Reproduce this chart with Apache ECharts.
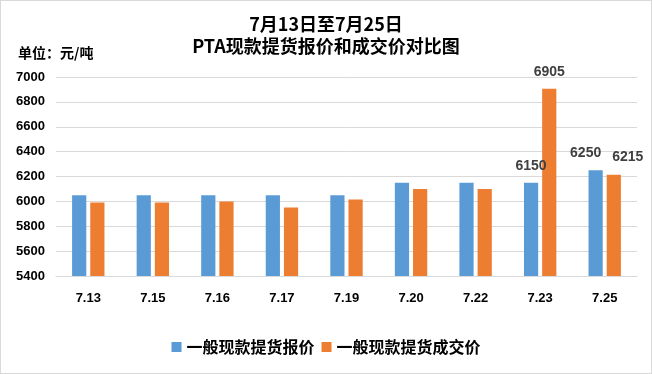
<!DOCTYPE html>
<html><head><meta charset="utf-8">
<script src="https://cdn.jsdelivr.net/npm/echarts@6/dist/echarts.min.js"></script>
<style>
html,body{margin:0;padding:0;background:#fff;}
#c{position:absolute;left:0;top:0;width:650px;height:372px;border:1px solid #d9d9d9;}
</style></head>
<body><div id="c"></div>
<script>
const categories = ['7.13','7.15','7.16','7.17','7.19','7.20','7.22','7.23','7.25'];
const quotePrice = [6050,6050,6050,6050,6050,6150,6150,6150,6250];
const dealPrice = [5990,5990,6000,5950,6015,6100,6100,6905,6215];
const quoteLabelIdx = [7,8];
const dealLabelIdx = [7,8];
const seriesNames = ['一般现款提货报价','一般现款提货成交价'];

// label nudges (styling only)
const quoteLabelOffset = {7:[0,0],8:[-10,0]};
const dealLabelOffset = {7:[0,0],8:[14,0]};

const chart = echarts.init(document.getElementById('c'));
function mk(vals, idx, offs){
  return vals.map((v,i)=>({value:v,label:{show:idx.includes(i),offset:offs[i]||[0,0]}}));
}
const numFont = 'Liberation Sans';
chart.setOption({
  animation:false,
  title:{
    text:'7月13日至7月25日\nPTA现款提货报价和成交价对比图',
    left:'center', top:7,
    textStyle:{fontFamily:'Noto Sans CJK SC',fontSize:18,fontWeight:'bold',color:'#000',lineHeight:22}
  },
  graphic:[{type:'text',left:17,top:45,style:{text:'单位：元/吨',font:'bold 14px "Noto Sans CJK SC"',fill:'#000'}}],
  legend:{
    bottom:13,left:'center',itemWidth:10,itemHeight:10,itemGap:7,icon:'rect',
    textStyle:{fontFamily:'Noto Sans CJK SC',fontSize:16,fontWeight:'bold',color:'#000',padding:[0,0,0,0]}
  },
  grid:{left:55,right:14,top:76,bottom:97,containLabel:false},
  xAxis:{
    type:'category',data:categories,
    axisLine:{lineStyle:{color:'#d9d9d9'}},axisTick:{show:false},
    axisLabel:{fontFamily:numFont,fontWeight:'bold',fontSize:13,color:'#000',margin:16}
  },
  yAxis:{
    type:'value',min:5400,max:7000,interval:200,
    axisLine:{show:false},axisTick:{show:false},
    splitLine:{lineStyle:{color:'#d9d9d9'}},
    axisLabel:{fontFamily:numFont,fontWeight:'bold',fontSize:13,color:'#000',margin:11,formatter:v=>String(v)}
  },
  series:[
    {name:seriesNames[0],type:'bar',data:mk(quotePrice,quoteLabelIdx,quoteLabelOffset),barWidth:'22%',barGap:'28%',
     itemStyle:{color:'#5b9bd5'},
     label:{position:'top',distance:10,fontFamily:numFont,fontWeight:'bold',fontSize:14,color:'#404040'}},
    {name:seriesNames[1],type:'bar',data:mk(dealPrice,dealLabelIdx,dealLabelOffset),barWidth:'22%',
     itemStyle:{color:'#ed7d31'},
     label:{position:'top',distance:10,fontFamily:numFont,fontWeight:'bold',fontSize:14,color:'#404040'}}
  ]
});
</script></body></html>
